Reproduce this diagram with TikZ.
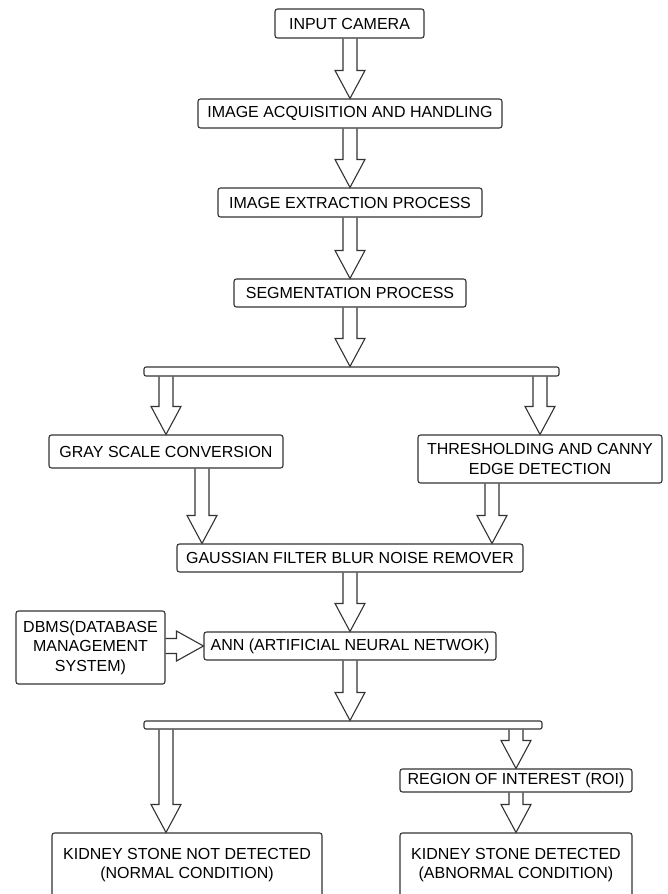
\documentclass[tikz,border=0pt]{standalone}
\usepackage{fontspec}
\setmainfont{Liberation Sans}
\usetikzlibrary{calc}
\definecolor{linec}{HTML}{333333}
\tikzset{
  box/.style={draw=linec, line width=1.1pt, rounded corners=2.5pt, inner sep=0pt,
    align=center, font=\fontsize{16}{19.5}\selectfont, text=black},
  barbox/.style={draw=linec, line width=1.1pt, rounded corners=2pt, inner sep=0pt},
  blockarr/.style={draw=linec, line width=1.1pt, line join=miter}
}
\newcommand{\varrow}[2]{\draw[blockarr] let \p1=#1, \p2=#2 in
  (\x2-7pt,\y1) -- (\x2-7pt,\y2+28pt) -- (\x2-15pt,\y2+28pt) -- (\x2,\y2)
  -- (\x2+15pt,\y2+28pt) -- (\x2+7pt,\y2+28pt) -- (\x2+7pt,\y1);}
\newcommand{\harrow}[2]{\draw[blockarr] let \p1=#1, \p2=#2 in
  (\x1,\y2+7.5pt) -- (\x2-27pt,\y2+7.5pt) -- (\x2-27pt,\y2+15pt) -- (\x2,\y2)
  -- (\x2-27pt,\y2-15pt) -- (\x2-27pt,\y2-7.5pt) -- (\x1,\y2-7.5pt);}
\begin{document}
\begin{tikzpicture}[x=1pt, y=-1pt]
\useasboundingbox (0,0) rectangle (668,894);
\clip (0,0) rectangle (668,894);
\fill[white] (0,0) rectangle (668,894);

\node[box, minimum width=149, minimum height=29] (cam) at (349.5,23.5) {INPUT CAMERA};
\node[box, minimum width=304, minimum height=29] (acq) at (350,113.5) {IMAGE ACQUISITION AND HANDLING};
\node[box, minimum width=264, minimum height=29] (ext) at (350,202.5) {IMAGE EXTRACTION PROCESS};
\node[box, minimum width=232, minimum height=28] (seg) at (350,293) {SEGMENTATION PROCESS};
\node[barbox, minimum width=415, minimum height=9] (bar1) at (351.5,371.5) {};
\node[box, minimum width=234, minimum height=33] (gray) at (166,451.5) {GRAY SCALE CONVERSION};
\node[box, minimum width=244, minimum height=48] (thr) at (540,459) {THRESHOLDING AND CANNY\\EDGE DETECTION};
\node[box, minimum width=346, minimum height=28] (gauss) at (350,558) {GAUSSIAN FILTER BLUR NOISE REMOVER};
\node[box, minimum width=149, minimum height=73] (dbms) at (90.5,647.5) {DBMS(DATABASE\\MANAGEMENT\\SYSTEM)};
\node[box, minimum width=292, minimum height=28] (ann) at (350,646) {ANN (ARTIFICIAL NEURAL NETWOK)};
\node[barbox, minimum width=398, minimum height=8] (bar2) at (343,725) {};
\node[box, minimum width=232, minimum height=23] (roi) at (516,780.5) {REGION OF INTEREST (ROI)};
\node[box, minimum width=270, minimum height=64] (nd) at (187,865) {KIDNEY STONE NOT DETECTED\\(NORMAL CONDITION)};
\node[box, minimum width=232, minimum height=64] (det) at (516,865) {KIDNEY STONE DETECTED\\(ABNORMAL CONDITION)};

\coordinate (grayout) at ([xshift=36pt]gray.south);
\coordinate (throut) at ([xshift=-48pt]thr.south);
\coordinate (ndin) at ([xshift=-21pt]nd.north);

\varrow{(cam.south)}{(acq.north)}
\varrow{(acq.south)}{(ext.north)}
\varrow{(ext.south)}{(seg.north)}
\varrow{(seg.south)}{(seg.south |- bar1.north)}
\varrow{(bar1.south -| gray.north)}{(gray.north)}
\varrow{(bar1.south -| thr.north)}{(thr.north)}
\varrow{(grayout)}{(grayout |- gauss.north)}
\varrow{(throut)}{(throut |- gauss.north)}
\varrow{(gauss.south)}{(ann.north)}
\harrow{(dbms.east)}{(ann.west)}
\varrow{(ann.south)}{(ann.south |- bar2.north)}
\varrow{(ndin |- bar2.south)}{(ndin)}
\varrow{(bar2.south -| roi.north)}{(roi.north)}
\varrow{(roi.south)}{(det.north)}
\end{tikzpicture}
\end{document}
